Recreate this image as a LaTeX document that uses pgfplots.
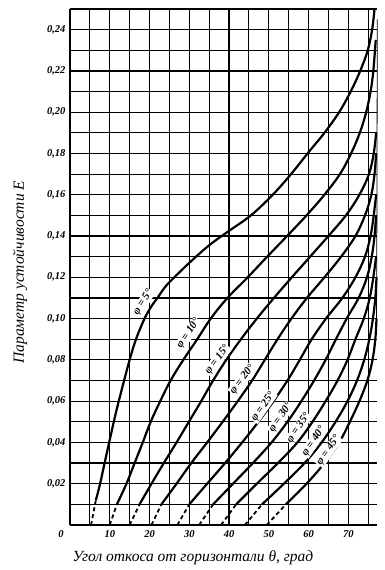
\documentclass[border=0pt]{standalone}
\usepackage{fontspec}
\setmainfont{Liberation Serif}
\usepackage{pgfplots}
\pgfplotsset{compat=1.18}
\tikzset{dsh/.style={black, line width=1.8pt, dash pattern=on 4pt off 3pt},
  crv/.style={black, line width=2.2pt, smooth, tension=0.6},
  lab/.style={fill=white, inner sep=0.6pt, font=\fontsize{11}{12}\selectfont\bfseries\itshape}}
\begin{document}
\begin{tikzpicture}[x=1pt,y=1pt]
\path[use as bounding box] (-70,-45) rectangle (315,525);
\begin{axis}[
  at={(0,0)}, anchor=south west,
  scale only axis, width=307.3pt, height=516pt,
  xmin=0, xmax=77.3, ymin=0, ymax=0.25,
  axis x line*=bottom, axis y line*=left,
  axis line style={line width=1.4pt},
  xtick={10,20,30,40,50,60,70}, minor xtick={5,15,25,35,45,55,65,75},
  ytick={0.02,0.04,0.06,0.08,0.10,0.12,0.14,0.16,0.18,0.20,0.22,0.24},
  minor ytick={0.01,0.03,0.05,0.07,0.09,0.11,0.13,0.15,0.17,0.19,0.21,0.23,0.25},
  grid=both,
  major grid style={black, line width=1.2pt},
  minor grid style={black, line width=1.2pt},
  major tick length=0pt, minor tick length=0pt,
  scaled y ticks=false,
  /pgf/number format/assume math mode=true,
  tick label style={font=\fontsize{10.5}{12}\selectfont\bfseries\itshape},
  yticklabel style={/pgf/number format/fixed, /pgf/number format/fixed zerofill,
    /pgf/number format/precision=2, /pgf/number format/use comma, xshift=-1pt},
  xticklabel style={yshift=-2pt},
  xlabel={Угол откоса от горизонтали θ, град},
  xlabel style={font=\fontsize{15.5}{17}\selectfont\itshape, at={(axis description cs:0.40,0)}, anchor=center, yshift=-33pt},
  ylabel={Параметр устойчивости \textit{E}},
  ylabel style={font=\fontsize{15.5}{17}\selectfont\itshape, at={(axis description cs:-0.163,0.49)}, anchor=center},
  clip=false,
]
% dashed starts
\addplot[dsh] coordinates {(5.3,0) (6.5,0.012)};
\addplot[dsh] coordinates {(10,0) (11.8,0.01)};
\addplot[dsh] coordinates {(15,0) (17.5,0.01)};
\addplot[dsh] coordinates {(20.5,0) (23,0.01)};
\addplot[dsh] coordinates {(27,0) (30,0.01)};
\addplot[dsh] coordinates {(32.5,0) (36,0.01)};
\addplot[dsh] coordinates {(38,0) (41.8,0.01)};
\addplot[dsh] coordinates {(44,0) (48.3,0.01)};
\addplot[dsh] coordinates {(49.5,0) (54.3,0.01)};
% phi = 5
\addplot[crv] coordinates {(6.5,0.012) (7.5,0.0194) (8.7,0.03) (10,0.0413) (11.5,0.054) (13,0.0655) (15,0.08) (16.6,0.09) (18.75,0.10) (20.5,0.106) (22,0.11) (24,0.1155) (26.25,0.12) (30,0.127) (35,0.1355) (40,0.1425) (45.5,0.15) (51,0.16) (55.6,0.17) (59.75,0.18) (64,0.19) (67.7,0.20) (70.6,0.21) (73,0.22) (74.9,0.23) (76,0.24) (76.6,0.25)};
% phi = 10
\addplot[crv] coordinates {(11.8,0.01) (14.2,0.02) (16.25,0.03) (18.3,0.04) (20.3,0.05) (22.7,0.06) (25.3,0.07) (28.5,0.08) (32,0.09) (35.4,0.10) (39.6,0.11) (44.7,0.12) (49.6,0.13) (54.6,0.14) (59.5,0.15) (64,0.16) (67.9,0.17) (70.7,0.18) (72.9,0.19) (74.5,0.20) (75.6,0.21) (76.3,0.22) (76.9,0.235)};
% phi = 15
\addplot[crv] coordinates {(17.5,0.01) (20.5,0.02) (23.6,0.03) (26.8,0.04) (29.9,0.05) (33,0.06) (36,0.07) (39.3,0.08) (43,0.09) (47,0.10) (51.3,0.11) (55.8,0.12) (60.4,0.13) (65,0.14) (69.4,0.15) (72.8,0.16) (75.2,0.17) (76.4,0.18) (77,0.19)};
% phi = 20
\addplot[crv] coordinates {(23,0.01) (26.8,0.02) (30.5,0.03) (34.5,0.04) (38.4,0.05) (42.2,0.06) (45.8,0.07) (49,0.08) (52.2,0.09) (55.7,0.10) (59.6,0.11) (64,0.12) (68.2,0.13) (71.8,0.14) (74.2,0.15) (75.8,0.16) (76.6,0.17) (77,0.18)};
% phi = 25
\addplot[crv] coordinates {(30,0.01) (34.5,0.02) (39,0.03) (43.3,0.04) (47.4,0.05) (51.2,0.06) (54.7,0.07) (57.8,0.08) (60.8,0.09) (64.4,0.10) (68.5,0.11) (71.8,0.12) (74.2,0.13) (75.6,0.14) (76.4,0.15) (77,0.16)};
% phi = 30
\addplot[crv] coordinates {(36,0.01) (41,0.02) (46,0.03) (50.7,0.04) (54.7,0.05) (58.2,0.06) (61.4,0.07) (64.3,0.08) (66.9,0.09) (69.6,0.10) (72.6,0.11) (74.7,0.12) (75.9,0.13) (76.6,0.14) (77,0.15)};
% phi = 35
\addplot[crv] coordinates {(41.8,0.01) (47,0.02) (52.3,0.03) (57.2,0.04) (61,0.05) (64.3,0.06) (67.3,0.07) (69.8,0.08) (71.8,0.09) (73.9,0.10) (75.4,0.11) (76.3,0.12) (77,0.13)};
% phi = 40
\addplot[crv] coordinates {(48.3,0.01) (53.8,0.02) (59,0.03) (63.3,0.04) (66.8,0.05) (69.8,0.06) (72.2,0.07) (74,0.08) (75.3,0.09) (76.2,0.10) (76.8,0.11) (77.1,0.12)};
% phi = 45
\addplot[crv] coordinates {(54.3,0.01) (59.5,0.02) (64,0.03) (67.7,0.04) (70.4,0.05) (72.8,0.06) (74.8,0.07) (76.1,0.08) (76.8,0.09) (77.1,0.10)};
% thin right edge
\addplot[black, line width=0.8pt, smooth] coordinates {(77.1,0.10) (77.2,0.15) (77.3,0.245)};
% labels
\node[lab, rotate=58] at (axis cs:18.4,0.1078) {φ = 5°};
\node[lab, rotate=56] at (axis cs:29.8,0.0927) {φ = 10°};
\node[lab, rotate=53] at (axis cs:37.1,0.080) {φ = 15°};
\node[lab, rotate=52] at (axis cs:43.4,0.0705) {φ = 20°};
\node[lab, rotate=55] at (axis cs:48.6,0.0573) {φ = 25°};
\node[lab, rotate=56] at (axis cs:53,0.052) {φ = 30°};
\node[lab, rotate=56] at (axis cs:57.5,0.047) {φ = 35°};
\node[lab, rotate=56] at (axis cs:61.3,0.0405) {φ = 40°};
\node[lab, rotate=55] at (axis cs:65,0.036) {φ = 45°};
\node[font=\fontsize{10.5}{12}\selectfont\bfseries\itshape, xshift=-9pt, yshift=-9pt] at (axis cs:0,0) {0};
\end{axis}
\end{tikzpicture}
\end{document}
